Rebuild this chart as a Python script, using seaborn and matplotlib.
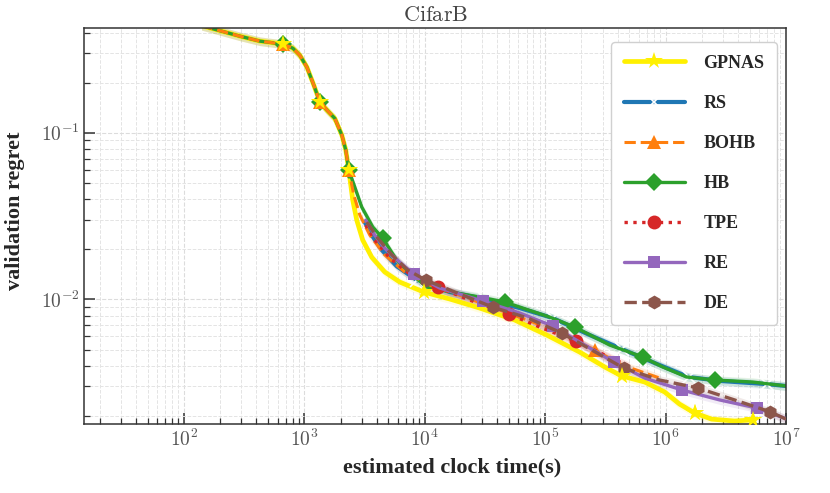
import numpy as np
import pandas as pd
import matplotlib
matplotlib.use("Agg")
import matplotlib.pyplot as plt
from matplotlib.ticker import FuncFormatter, LogLocator
import seaborn as sns

# shared start of the curves (GPNAS, BOHB, HB follow the same trace early on)
common_t = [140, 292, 428, 664, 803, 918, 1050, 1200, 1345, 1538, 1792, 2049, 2210, 2340]
common_r = [0.44, 0.380, 0.355, 0.341, 0.322, 0.292, 0.248, 0.193, 0.153, 0.137, 0.122, 0.0969, 0.0787, 0.0597]

gpnas_t = [2432, 2525, 2726, 3055, 3631, 4655, 6204, 9817, 16110, 28580, 55800, 102900, 193000,
           311700, 431700, 669900, 982000, 1307000, 1741000, 2410000, 3740000, 5270000]
gpnas_r = [0.0485, 0.0394, 0.0299, 0.0227, 0.0179, 0.0146, 0.0127, 0.01107, 0.01005, 0.00887, 0.00752,
           0.00611, 0.00483, 0.00393, 0.00347, 0.00319, 0.00278, 0.00235, 0.00208, 0.00191, 0.00186, 0.00189]

hb_t = [2625, 3000, 3700, 4478, 5856, 7510, 10390, 18450, 28580, 46100, 108900, 175700, 343000,
        644000, 944000, 1494000, 2550000, 5270000, 10000000]
hb_r = [0.0472, 0.0358, 0.0272, 0.0233, 0.0172, 0.0144, 0.01186, 0.0109, 0.01033, 0.00964, 0.00783,
        0.00682, 0.00532, 0.00451, 0.00393, 0.00342, 0.00328, 0.00319, 0.00302]

bohb_t = [2576, 2890, 3500, 4655, 6823, 11000, 21460, 41900, 78700, 150700, 257400, 431700, 891000]
bohb_r = [0.0423, 0.0321, 0.0243, 0.0185, 0.0146, 0.0122, 0.01033, 0.00863, 0.00731, 0.00603,
          0.00497, 0.00404, 0.00337]

rs_t = [3176, 3631, 4395, 5856, 8590, 16110, 31450, 61400, 115300, 233900, 431700, 811000,
        1552000, 2810000, 6890000, 10000000]
rs_r = [0.0291, 0.0243, 0.0198, 0.0158, 0.01306, 0.01107, 0.01005, 0.00887, 0.00773, 0.00611,
        0.00504, 0.00415, 0.00342, 0.00324, 0.00310, 0.00302]

tpe_t = [3236, 3845, 5123, 7510, 12830, 23620, 49770, 90000, 179000, 311700, 502000]
tpe_r = [0.0279, 0.0227, 0.0177, 0.01419, 0.01186, 0.00991, 0.00817, 0.00682, 0.00562, 0.00463, 0.00396]

re_t = [3236, 3845, 4655, 6204, 8110, 13300, 30270, 61400, 115300, 212800, 369800, 669900,
        1358000, 2810000, 5690000, 10000000]
re_r = [0.0299, 0.0243, 0.0203, 0.0167, 0.01419, 0.0117, 0.00977, 0.00828, 0.00692, 0.00532,
        0.00421, 0.00337, 0.00286, 0.00249, 0.00223, 0.00192]

de_t = [3304, 4074, 5321, 7227, 10190, 17740, 36640, 71600, 137100, 243200, 447700, 891000,
        1845000, 3740000, 7430000, 10000000]
de_r = [0.0291, 0.0233, 0.0185, 0.0150, 0.01306, 0.01107, 0.00899, 0.00773, 0.00628, 0.00497,
        0.00387, 0.00328, 0.00294, 0.00249, 0.00211, 0.00191]

n0 = len(common_t)
series = [
    # name, times, regrets, color, linestyle, marker, lw, ms, marker indices, zorder
    ("GPNAS", common_t + gpnas_t, common_r + gpnas_r, "#fff000", "-", "*", 3.4, 13,
     [3, 8, 13, n0 + 7, n0 + 14, n0 + 18, n0 + 21], 2.0),
    ("RS", rs_t, rs_r, "#1f77b4", "-", "x", 3.0, 10, [4, 6, 8, 10, 12, 14], 2.1),
    ("BOHB", common_t + bohb_t, common_r + bohb_r, "#ff7f0e", "--", "^", 2.2, 10,
     [3, 8, 13, n0 + 10], 2.4),
    ("HB", common_t + hb_t, common_r + hb_r, "#2ca02c", "-", "D", 2.4, 9,
     [3, 8, 13, n0 + 3, n0 + 9, n0 + 11, n0 + 13, n0 + 16], 2.2),
    ("TPE", tpe_t, tpe_r, "#d62728", ":", "o", 2.4, 10, [4, 6, 8], 2.5),
    ("RE", re_t, re_r, "#9467bd", "-", "s", 2.4, 9, [4, 6, 8, 10, 12, 14], 2.6),
    ("DE", de_t, de_r, "#8c564b", "--", "h", 2.4, 10, [4, 6, 8, 10, 12, 14], 2.7),
]

sns.set_style("ticks")
plt.rcParams["mathtext.fontset"] = "cm"
plt.rcParams["font.family"] = ["Liberation Serif", "DejaVu Serif"]

fig = plt.figure(figsize=(8.3, 4.93), dpi=100)
ax = fig.add_axes([0.1016, 0.14, 0.8454, 0.8026])

for name, t, r, color, ls, mk, lw, ms, every, z in series:
    df = pd.DataFrame({"time": t, "regret": r})
    # faint band around each curve
    ax.fill_between(df["time"], df["regret"] * 0.94, df["regret"] * 1.06,
                    color=color, alpha=0.12, lw=0, zorder=1)
    sns.lineplot(data=df, x="time", y="regret", ax=ax, color=color, linestyle=ls,
                 lw=lw, marker=mk, ms=ms, markevery=every, mew=1.2 if mk == "x" else 0,
                 sort=False, estimator=None, label=name, zorder=z)

# keep GPNAS stars visible on top of the shared early trace
gp = series[0]
ax.plot(np.array(gp[1])[gp[8]], np.array(gp[2])[gp[8]],
        ls="none", marker="*", ms=13, color="#fff000", mew=0, zorder=5)

ax.set_xscale("log")
ax.set_yscale("log")
ax.set_xlim(14.9, 1e7)
ax.set_ylim(0.001786, 0.424)

ax.xaxis.set_major_locator(LogLocator(base=10, numticks=12))
ax.xaxis.set_minor_locator(LogLocator(base=10, subs=np.arange(2, 10), numticks=12))
fmt = FuncFormatter(lambda v, p: r"$10^{%d}$" % round(np.log10(v)))
ax.xaxis.set_major_formatter(fmt)
ax.yaxis.set_major_formatter(fmt)

ax.grid(which="major", color="#dcdcdc", lw=0.8, ls="--")
ax.grid(which="minor", color="#e4e4e4", lw=0.7, ls="--")
ax.tick_params(which="both", direction="in", colors="#333333", labelcolor="#555555")
ax.tick_params(which="major", length=8, width=1.1, labelsize=14)
ax.tick_params(which="minor", length=4, width=0.9)
for s in ax.spines.values():
    s.set_color("#333333")
    s.set_linewidth(1.1)

ax.set_title(r"$\mathrm{CifarB}$", fontsize=16, color="#444444", pad=5)
ax.set_xlabel("estimated clock time(s)", fontsize=16, fontweight="bold")
ax.set_ylabel("validation regret", fontsize=16, fontweight="bold")
ax.xaxis.set_label_coords(0.524, -0.085)
ax.yaxis.set_label_coords(-0.085, 0.538)

leg = ax.legend(loc="upper right", bbox_to_anchor=(0.987, 0.965), borderaxespad=0,
                prop={"size": 13, "weight": "bold"},
                handlelength=3.4, handletextpad=1.0, labelspacing=1.28, borderpad=0.7,
                frameon=True, fancybox=True, framealpha=1.0)
leg.get_frame().set_edgecolor("#d0d0d0")

fig.savefig("out.png", dpi=100)
